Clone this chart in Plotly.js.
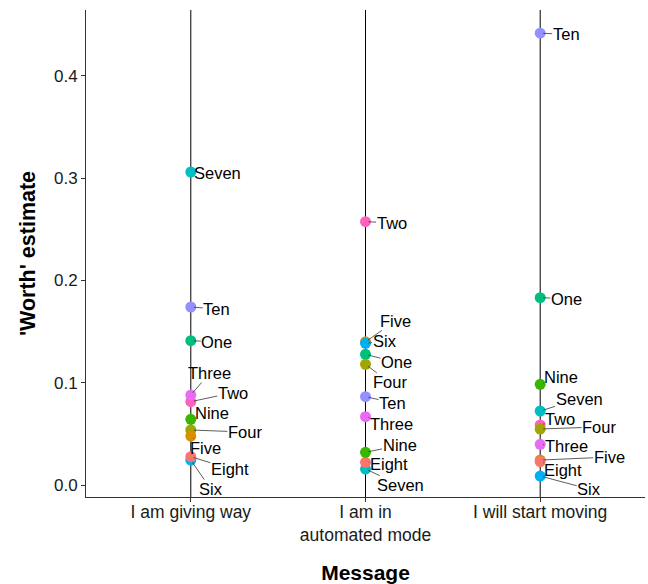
<!DOCTYPE html>
<html>
<head>
<meta charset="utf-8">
<script src="https://cdn.plot.ly/plotly-3.0.1.min.js"></script>
<style>html,body{margin:0;padding:0;background:#fff;}#chart{width:648px;height:584px;}</style>
</head>
<body>
<div id="chart"></div>
<script>
// ---- data ----
const messages = ["I am giving way", "I am in<br>automated mode", "I will start moving"];
const items = ["One", "Two", "Three", "Four", "Five", "Six", "Seven", "Eight", "Nine", "Ten"];
// worth estimates per item, for [giving way, automated mode, start moving]
const One   = [0.1411, 0.1278, 0.1832];
const Two   = [0.0815, 0.2575, 0.0587];
const Three = [0.0880, 0.0668, 0.0398];
const Four  = [0.0538, 0.1180, 0.0548];
const Five  = [0.0479, 0.1400, 0.0244];
const Six   = [0.0244, 0.1386, 0.0088];
const Seven = [0.3061, 0.0156, 0.0724];
const Eight = [0.0277, 0.0222, 0.0230];
const Nine  = [0.0643, 0.0320, 0.0985];
const Ten   = [0.1741, 0.0864, 0.4418];
const values = {One, Two, Three, Four, Five, Six, Seven, Eight, Nine, Ten};

// ---- styling ----
const colors = {
  Eight: "#F8766D", Five: "#D89000", Four: "#A3A500", Nine: "#39B600", One: "#00BF7D",
  Seven: "#00BFC4", Six: "#00B0F6", Ten: "#9590FF", Three: "#E76BF3", Two: "#FF62BC"
};
// label offsets in pixels [dx, dy] (text centre relative to point), per message column
const labelOffsets = [
  {Seven:[27,1], Ten:[26,2], One:[26,1], Three:[19,-22], Two:[42,-9], Nine:[21,-6], Four:[54,2], Five:[15,12], Eight:[39,12], Six:[20,29]},
  {Two:[26,1], Five:[30,-21], Six:[19,-2], One:[31,8], Four:[24,18], Ten:[27,6], Three:[26,7], Nine:[34,-7], Eight:[23,2], Seven:[35,16]},
  {Ten:[26,1], One:[26,1], Nine:[21,-7], Seven:[39,-12], Two:[20,-6], Four:[59,-2], Three:[26,2], Five:[69,-3], Eight:[23,8], Six:[49,13]}
];

const font = "Liberation Sans, Arial, sans-serif";

const traces = items.map(name => ({
  type: "scatter", mode: "markers", name: name,
  x: messages, y: values[name],
  marker: {color: colors[name], size: 11, line: {width: 0}},
  showlegend: false, hoverinfo: "x+y+name"
}));

const annotations = [];
messages.forEach((m, ci) => {
  items.forEach(name => {
    const off = labelOffsets[ci][name];
    annotations.push({
      x: m, y: values[name][ci], xref: "x", yref: "y",
      text: name, showarrow: true, ax: off[0], ay: off[1],
      arrowhead: 0, arrowwidth: 0.8, arrowcolor: "#333333",
      standoff: 3, startstandoff: 0, borderpad: 0,
      font: {family: font, size: 16.5, color: "#000000"}
    });
  });
});

const shapes = messages.map((m, i) => ({
  type: "line", xref: "x", yref: "paper", x0: i, x1: i, y0: 0, y1: 1,
  line: {color: "#000000", width: 1}, layer: "below"
}));

const layout = {
  width: 648, height: 584,
  margin: {l: 86, r: 3, t: 10, b: 87},
  paper_bgcolor: "#ffffff", plot_bgcolor: "#ffffff",
  font: {family: font, color: "#000000"},
  xaxis: {
    type: "category", range: [-0.6, 2.6],
    showgrid: false, zeroline: false, showline: true, linecolor: "#333333", linewidth: 1,
    ticks: "outside", ticklen: 4, tickcolor: "#333333",
    ticklabelstandoff: -5,
    tickfont: {family: font, size: 17.5, color: "#1a1a1a"},
    title: {text: "<b>Message</b>", font: {family: font, size: 21, color: "#000000"}, standoff: 24},
    automargin: false
  },
  yaxis: {
    range: [-0.0117, 0.4645],
    tickvals: [0, 0.1, 0.2, 0.3, 0.4], ticktext: ["0.0", "0.1", "0.2", "0.3", "0.4"],
    showgrid: false, zeroline: false, showline: true, linecolor: "#333333", linewidth: 1,
    ticks: "outside", ticklen: 4, tickcolor: "#333333",
    tickfont: {family: font, size: 17, color: "#1a1a1a"},
    title: {text: "<b>'Worth' estimate</b>", font: {family: font, size: 21.5, color: "#000000"}, standoff: 12},
    automargin: false
  },
  shapes: shapes,
  annotations: annotations,
  hovermode: "closest"
};

Plotly.newPlot("chart", traces, layout, {displayModeBar: false, staticPlot: true});
</script>
</body>
</html>
